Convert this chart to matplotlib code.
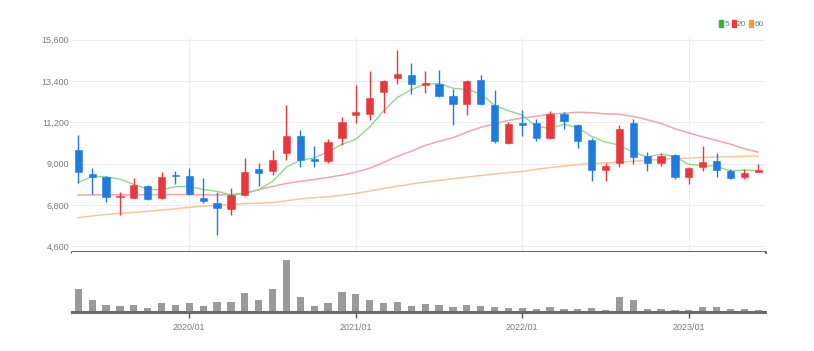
#!/usr/bin/env python3
from __future__ import annotations

import matplotlib

matplotlib.use("Agg")
import matplotlib.pyplot as plt
from matplotlib.patches import Patch

# monthly candles, 2019/05 .. 2023/06
start_year, start_month, n_months = 2019, 5, 50
months = [
    f"{start_year + (start_month - 1 + i) // 12}/{(start_month - 1 + i) % 12 + 1:02d}"
    for i in range(n_months)
]

opens = [9750, 8440, 8280, 7210, 7190, 7810, 7170, 8400, 8350, 7170,
         6910, 6570, 7350, 8710, 8620, 9570, 10470, 9260, 9150, 10340,
         11570, 11660, 12790, 13570, 13690, 13200, 13250, 12580, 12170, 13430,
         12140, 10090, 11180, 11160, 10340, 11660, 11080, 10250, 8660, 9010,
         11150, 9400, 9010, 9450, 8270, 8830, 9150, 8620, 8270, 8570]
highs = [10550, 8780, 8320, 7510, 8220, 7850, 8570, 8620, 8750, 8250,
         7510, 7690, 9280, 9010, 9720, 12140, 10810, 9940, 10300, 11480,
         13160, 13920, 13450, 15050, 14370, 13920, 13990, 12990, 13460, 13690,
         12930, 11220, 11840, 11400, 11800, 11750, 11100, 10340, 9060, 11040,
         11400, 9630, 9590, 9540, 8830, 9930, 9570, 8700, 8710, 8970]
lows = [7950, 7370, 6940, 6270, 7150, 7090, 7120, 7900, 7330, 6890,
        5210, 6270, 7300, 7820, 8390, 9220, 8830, 8830, 9060, 9980,
        11180, 11310, 11690, 13250, 12720, 12780, 12540, 11080, 11570, 12130,
        10100, 10060, 10460, 10190, 10300, 10870, 9860, 8090, 8090, 8830,
        8970, 8600, 8870, 8160, 7910, 8620, 8270, 8180, 8160, 8560]
closes = [8570, 8300, 7210, 7260, 7850, 7120, 8270, 8320, 7400, 7030,
          6630, 7350, 8570, 8530, 9190, 10460, 9190, 9150, 10140, 11220,
          11750, 12490, 13410, 13760, 13250, 13280, 12600, 12170, 13390, 12170,
          10180, 11130, 11040, 10390, 11660, 11250, 10230, 8690, 8900, 10870,
          9330, 9010, 9400, 8300, 8750, 9100, 8690, 8250, 8510, 8640]

ma5 = [8000, 8330, 8300, 8180, 7900, 7650, 7600, 7780, 7792, 7628,
       7530, 7346, 7396, 7622, 8054, 8820, 9188, 9304, 9626, 10032,
       10290, 10950, 11802, 12526, 12932, 13238, 13260, 13012, 12938, 12722,
       12102, 11808, 11582, 10982, 10880, 11094, 10914, 10444, 10146, 9988,
       9604, 9360, 9502, 9382, 8958, 8912, 8848, 8618, 8660, 8638]
ma20 = [7330, 7340, 7350, 7350, 7350, 7350, 7360, 7360, 7360, 7350,
        7340, 7350, 7450, 7620, 7790, 7950, 8060, 8160, 8270, 8390,
        8547, 8757, 9067, 9392, 9662, 9970, 10186, 10379, 10678, 10935,
        11113, 11302, 11425, 11518, 11642, 11681, 11733, 11710, 11648, 11631,
        11510, 11336, 11135, 10862, 10637, 10428, 10233, 10037, 9793, 9616]
ma60 = [6130, 6220, 6300, 6360, 6410, 6470, 6540, 6600, 6680, 6740,
        6790, 6840, 6880, 6900, 6930, 7030, 7130, 7190, 7240, 7320,
        7420, 7550, 7680, 7800, 7920, 8020, 8110, 8200, 8290, 8370,
        8450, 8520, 8590, 8700, 8790, 8870, 8950, 9000, 9040, 9080,
        9130, 9180, 9230, 9270, 9300, 9330, 9350, 9370, 9390, 9400]

# volume in thousand shares
volumes = [710, 370, 220, 180, 220, 120, 280, 220, 280, 180,
           310, 310, 570, 360, 690, 1570, 450, 180, 270, 610,
           550, 360, 270, 320, 190, 240, 220, 170, 220, 190,
           170, 120, 130, 90, 170, 90, 90, 120, 70, 460,
           370, 90, 90, 70, 70, 170, 170, 90, 90, 70]

price_ticks = [4600, 6800, 9000, 11200, 13400, 15600]

UP = "#e8373d"
DOWN = "#1e7be0"
FONT = ["Liberation Sans Narrow", "Liberation Sans", "DejaVu Sans"]


def main() -> int:
    fig = plt.figure(figsize=(8.14, 3.51), dpi=100)
    fig.patch.set_facecolor("white")
    ax = fig.add_axes([0.0885, 0.2812, 0.8514, 0.6105])
    vax = fig.add_axes([0.0885, 0.1103, 0.8514, 0.1709], sharex=ax)

    x = list(range(len(months)))
    up = [c >= o for o, c in zip(opens, closes)]
    colors = [UP if u else DOWN for u in up]

    # grid
    for t in price_ticks:
        ax.axhline(t, color="#ececec", linewidth=0.8, zorder=0)
    year_ticks = [i for i, m in enumerate(months) if m.endswith("/01")]
    for i in year_ticks:
        ax.axvline(i, color="#ececec", linewidth=0.8, zorder=0)

    # moving averages
    ax.plot(x, ma60, color="#f8c69a", linewidth=1.1, zorder=1)
    ax.plot(x, ma20, color="#f5a3ac", linewidth=1.1, zorder=1)
    ax.plot(x, ma5, color="#8fd98a", linewidth=1.0, zorder=1)

    # candles
    ax.vlines(x, lows, highs, colors=colors, linewidth=1.0, zorder=2)
    bottoms = [min(o, c) for o, c in zip(opens, closes)]
    heights = [max(abs(c - o), 60) for o, c in zip(opens, closes)]
    ax.bar(x, heights, bottom=bottoms, width=0.52, color=colors,
           edgecolor=colors, linewidth=0.4, zorder=3)

    ax.set_xlim(-0.45, 49.5)
    ax.set_ylim(4290, 15680)
    ax.set_yticks(price_ticks)
    ax.set_yticklabels([f"{t:,}" for t in price_ticks])
    ax.tick_params(axis="y", length=0, pad=2, labelsize=6.5, labelcolor="#7a7a7a")
    ax.tick_params(axis="x", bottom=False, labelbottom=False)
    for lab in ax.get_yticklabels():
        lab.set_family(FONT)
    for side in ("top", "left", "right"):
        ax.spines[side].set_visible(False)
    ax.spines["bottom"].set_color("#3a3a3a")
    ax.spines["bottom"].set_linewidth(1.8)

    handles = [Patch(color="#2db83a"), Patch(color="#ee3a3a"), Patch(color="#f39a3c")]
    leg = ax.legend(handles, ["5", "20", "60"], ncol=3, frameon=False,
                    loc="lower right", bbox_to_anchor=(0.998, 1.045),
                    handlelength=0.45, handleheight=0.9, handletextpad=0.15,
                    columnspacing=0.35, borderpad=0, borderaxespad=0,
                    prop={"family": FONT, "size": 6})
    for t in leg.get_texts():
        t.set_color("#7a7a7a")

    # volume
    vax.bar(x, volumes, width=0.52, color="#9a9a9a", zorder=2)
    vax.set_ylim(0, 1800)
    vax.set_yticks([])
    for side in ("top", "left", "right"):
        vax.spines[side].set_visible(False)
    vax.spines["bottom"].set_color("#6a6a6a")
    vax.spines["bottom"].set_linewidth(2.2)
    vax.set_xticks(year_ticks)
    vax.set_xticklabels([months[i] for i in year_ticks])
    vax.tick_params(axis="x", length=4, width=1, color="#555555", pad=4,
                    labelsize=6.5, labelcolor="#7a7a7a")
    for lab in vax.get_xticklabels():
        lab.set_family(FONT)

    fig.savefig("out.png", dpi=100, facecolor="white")
    return 0


if __name__ == "__main__":
    raise SystemExit(main())
